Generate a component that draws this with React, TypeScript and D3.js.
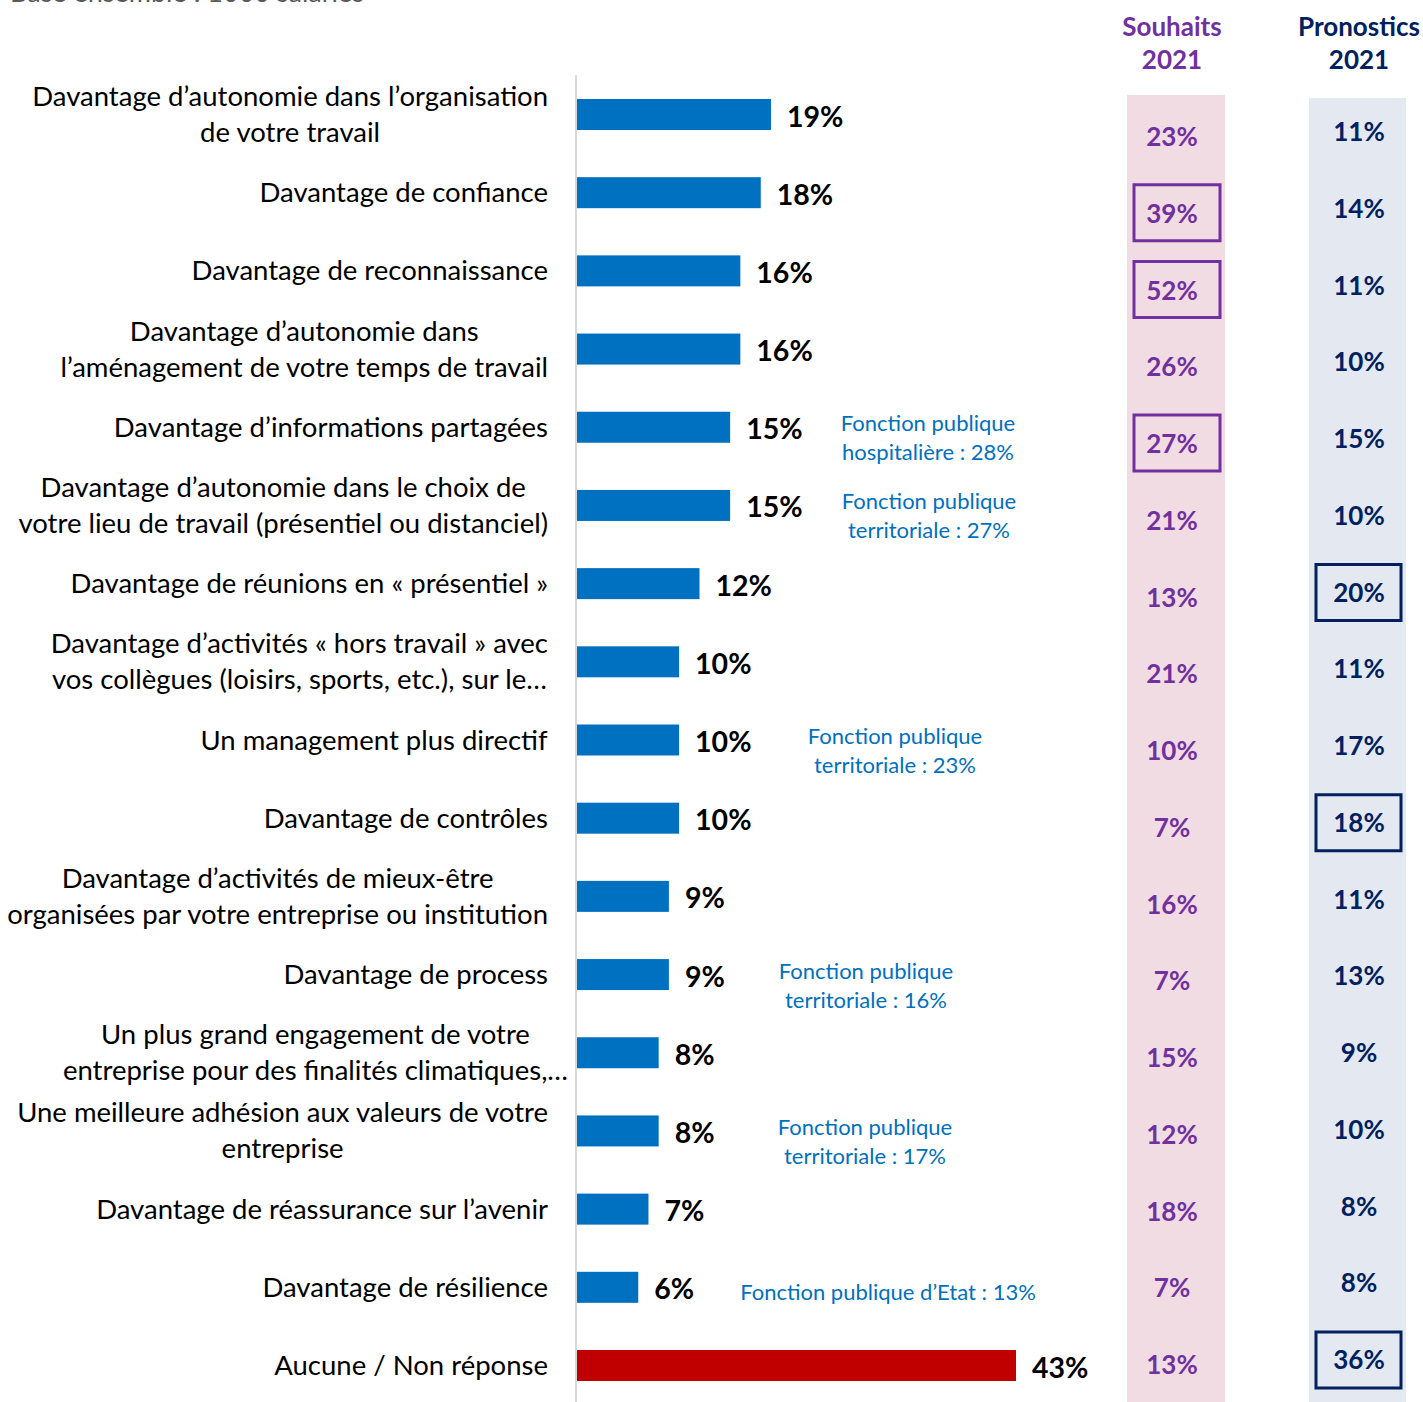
import React, { useEffect, useRef } from "react";
import * as d3 from "d3";

const categories: string[][] = [
  ["Davantage d’autonomie dans l’organisation", "de votre travail"],
  ["Davantage de confiance"],
  ["Davantage de reconnaissance"],
  ["Davantage d’autonomie dans", "l’aménagement de votre temps de travail"],
  ["Davantage d’informations partagées"],
  ["Davantage d’autonomie dans le choix de", "votre lieu de travail (présentiel ou distanciel)"],
  ["Davantage de réunions en « présentiel »"],
  ["Davantage d’activités « hors travail » avec", "vos collègues (loisirs, sports, etc.), sur le…"],
  ["Un management plus directif"],
  ["Davantage de contrôles"],
  ["Davantage d’activités de mieux-être", "organisées par votre entreprise ou institution"],
  ["Davantage de process"],
  ["Un plus grand engagement de votre", "entreprise pour des finalités climatiques,…"],
  ["Une meilleure adhésion aux valeurs de votre", "entreprise"],
  ["Davantage de réassurance sur l’avenir"],
  ["Davantage de résilience"],
  ["Aucune / Non réponse"],
];

const values: number[] = [19, 18, 16, 16, 15, 15, 12, 10, 10, 10, 9, 9, 8, 8, 7, 6, 43];
const souhaits: number[] = [23, 39, 52, 26, 27, 21, 13, 21, 10, 7, 16, 7, 15, 12, 18, 7, 13];
const pronostics: number[] = [11, 14, 11, 10, 15, 10, 20, 11, 17, 18, 11, 13, 9, 10, 8, 8, 36];
const souhaitsBoxed: number[] = [1, 2, 4];
const pronosticsBoxed: number[] = [6, 9, 16];
const noneIndex = 16;

const annotationRows: number[] = [4, 5, 8, 11, 13, 15];
const annotationTexts: string[][] = [
  ["Fonction publique", "hospitalière : 28%"],
  ["Fonction publique", "territoriale : 27%"],
  ["Fonction publique", "territoriale : 23%"],
  ["Fonction publique", "territoriale : 16%"],
  ["Fonction publique", "territoriale : 17%"],
  ["Fonction publique d’Etat : 13%"],
];
const annotationCenters: number[] = [928, 929, 895, 866, 865, 888];

const FONT = "Lato, 'Open Sans', sans-serif";

export default function App() {
  const ref = useRef<SVGSVGElement | null>(null);

  useEffect(() => {
    const svg = d3.select(ref.current);
    svg.selectAll("*").remove();

    const n = categories.length;
    const idx = d3.range(n);
    const y = d3.scalePoint<number>().domain(idx).range([114.5, 1365.5]);
    const yS = d3.scalePoint<number>().domain(idx).range([136, 1364]);
    const yP = d3.scalePoint<number>().domain(idx).range([131, 1359]);
    const x = d3.scaleLinear().domain([0, 43]).range([577, 1016]);
    const barH = 31;

    // subtitle (cut off at top, as in the reference)
    svg.append("text")
      .attr("x", 10).attr("y", 2)
      .attr("font-family", FONT).attr("font-size", 27)
      .attr("fill", "#595959")
      .text("Base ensemble : 1000 salariés");

    // bands
    svg.append("rect").attr("x", 1127).attr("y", 95).attr("width", 98).attr("height", 1320)
      .attr("fill", "#f2dce3");
    svg.append("rect").attr("x", 1309).attr("y", 98).attr("width", 97).attr("height", 1320)
      .attr("fill", "#e4e8f0");

    // headers
    const hdr = (cx: number, color: string, lines: string[]) => {
      lines.forEach((l, i) => {
        svg.append("text")
          .attr("x", cx).attr("y", 26 + i * 33)
          .attr("text-anchor", "middle").attr("dominant-baseline", "central")
          .attr("font-family", FONT).attr("font-weight", 700).attr("font-size", 26)
          .attr("fill", color).text(l);
      });
    };
    hdr(1172, "#7030a0", ["Souhaits", "2021"]);
    hdr(1359, "#002060", ["Pronostics", "2021"]);

    // axis line
    svg.append("line").attr("x1", 576).attr("x2", 576).attr("y1", 75).attr("y2", 1402)
      .attr("stroke", "#d9d9d9").attr("stroke-width", 2);

    // bars
    svg.append("g").selectAll("rect").data(idx).join("rect")
      .attr("x", x(0))
      .attr("y", (i) => (y(i) as number) - barH / 2)
      .attr("width", (i) => x(values[i]) - x(0))
      .attr("height", barH)
      .attr("fill", (i) => (i === noneIndex ? "#c00000" : "#0070c0"));

    // value labels
    svg.append("g").selectAll("text").data(idx).join("text")
      .attr("x", (i) => x(values[i]) + 16)
      .attr("y", (i) => (y(i) as number) + 1)
      .attr("dominant-baseline", "central")
      .attr("font-family", FONT).attr("font-weight", 700).attr("font-size", 28.5)
      .attr("fill", "#000")
      .text((i) => `${values[i]}%`);

    // category labels
    const labelRight = 548;
    idx.forEach((i) => {
      const lines = categories[i];
      const g = svg.append("g");
      const lh = 36;
      const cy = y(i) as number;
      lines.forEach((l, k) => {
        g.append("text")
          .attr("x", 0)
          .attr("y", cy + (k - (lines.length - 1) / 2) * lh - 1)
          .attr("text-anchor", "middle").attr("dominant-baseline", "central")
          .attr("font-family", FONT).attr("font-size", 27.5)
          .attr("fill", "#000").text(l);
      });
      const bb = (g.node() as SVGGElement).getBBox();
      const shift = i === 12 ? 20 : 0;
      g.attr("transform", `translate(${labelRight + shift - (bb.x + bb.width)},0)`);
    });

    // annotations
    annotationRows.forEach((r, k) => {
      const lines = annotationTexts[k];
      const cy = (y(r) as number) + (lines.length > 1 ? 10 : 4);
      lines.forEach((l, j) => {
        svg.append("text")
          .attr("x", annotationCenters[k])
          .attr("y", cy + (j - (lines.length - 1) / 2) * 29)
          .attr("text-anchor", "middle").attr("dominant-baseline", "central")
          .attr("font-family", FONT).attr("font-size", 22)
          .attr("fill", "#0070c0").text(l);
      });
    });

    // souhaits values
    svg.append("g").selectAll("text").data(idx).join("text")
      .attr("x", 1172).attr("y", (i) => yS(i) as number)
      .attr("text-anchor", "middle").attr("dominant-baseline", "central")
      .attr("font-family", FONT).attr("font-weight", 700).attr("font-size", 26)
      .attr("fill", "#7030a0").text((i) => `${souhaits[i]}%`);
    svg.append("g").selectAll("rect").data(souhaitsBoxed).join("rect")
      .attr("x", 1134).attr("y", (i) => (yS(i) as number) - 28)
      .attr("width", 86).attr("height", 56)
      .attr("fill", "none").attr("stroke", "#7030a0").attr("stroke-width", 3);

    // pronostics values
    svg.append("g").selectAll("text").data(idx).join("text")
      .attr("x", 1359).attr("y", (i) => yP(i) as number)
      .attr("text-anchor", "middle").attr("dominant-baseline", "central")
      .attr("font-family", FONT).attr("font-weight", 700).attr("font-size", 26)
      .attr("fill", "#002060").text((i) => `${pronostics[i]}%`);
    svg.append("g").selectAll("rect").data(pronosticsBoxed).join("rect")
      .attr("x", 1316).attr("y", (i) => (yP(i) as number) - 27)
      .attr("width", 85).attr("height", 56)
      .attr("fill", "none").attr("stroke", "#002060").attr("stroke-width", 3);
  }, []);

  return (
    <svg
      ref={ref}
      width={1423}
      height={1402}
      style={{ position: "absolute", left: 0, top: 0, background: "#fff" }}
    />
  );
}
